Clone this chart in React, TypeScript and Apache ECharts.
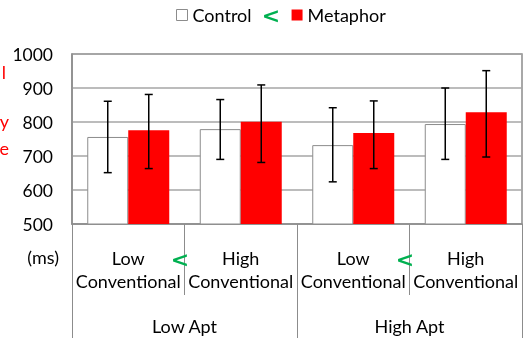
import React, { useEffect, useRef } from "react";
import * as echarts from "echarts";

const categories = ["Low\nConventional", "High\nConventional", "Low\nConventional", "High\nConventional"];
const groups = ["Low Apt", "High Apt"];
const yTicks = { min: 500, max: 1000, interval: 100 };

const controlMeans = [756, 779, 732, 794];
const controlLow = [651, 690, 624, 690];
const controlHigh = [861, 866, 842, 900];

const metaphorMeans = [776, 801, 768, 829];
const metaphorLow = [663, 681, 663, 697];
const metaphorHigh = [881, 909, 862, 951];

const FONT = "Lato";
const BAR_W = 41;
const GRAY = "#8c8c8c";
const GREEN = "#00b050";

function errorRenderer(offset: number) {
  return (params: any, api: any) => {
    const x = api.value(0);
    const lo = api.coord([x, api.value(1)]);
    const hi = api.coord([x, api.value(2)]);
    const cx = lo[0] + offset;
    const cap = 4;
    const style = { stroke: "#000", lineWidth: 1.5 };
    return {
      type: "group",
      children: [
        { type: "line", shape: { x1: cx, y1: hi[1], x2: cx, y2: lo[1] }, style },
        { type: "line", shape: { x1: cx - cap, y1: hi[1], x2: cx + cap, y2: hi[1] }, style },
        { type: "line", shape: { x1: cx - cap, y1: lo[1], x2: cx + cap, y2: lo[1] }, style },
      ],
    };
  };
}

const lessThan = (x: number, y: number) => ({
  type: "text",
  x,
  y,
  z: 20,
  style: {
    text: "<",
    fill: GREEN,
    fontSize: 22,
    lineHeight: 10,
    fontWeight: "bold",
    fontFamily: "DejaVu Sans",
    align: "center",
    verticalAlign: "middle",
  },
});

const redText = (text: string, x: number, y: number) => ({
  type: "text",
  x,
  y,
  style: { text, fill: "#ff0000", fontSize: 18, fontFamily: FONT, align: "right", verticalAlign: "middle" },
});

export default function App() {
  const ref = useRef<HTMLDivElement>(null);
  useEffect(() => {
    if (!ref.current) return;
    const chart = echarts.init(ref.current, null, { renderer: "svg" });
    chart.setOption({
      animation: false,
      textStyle: { fontFamily: FONT },
      legend: {
        left: 171,
        top: 1,
        itemWidth: 11,
        itemHeight: 11,
        itemGap: 40,
        icon: "rect",
        textStyle: { fontSize: 18, color: "#000", fontFamily: FONT },
        data: [
          { name: "Control", itemStyle: { color: "#fff", borderColor: GRAY, borderWidth: 1 } },
          { name: "Metaphor", itemStyle: { color: "#ff0000" } },
        ],
      },
      grid: {
        left: 72,
        right: 5,
        top: 54,
        bottom: 114,
        show: true,
        borderColor: GRAY,
        borderWidth: 1.5,
        backgroundColor: "transparent",
      },
      xAxis: [
        {
          type: "category",
          data: categories,
          position: "bottom",
          axisLine: { show: true, lineStyle: { color: GRAY, width: 1.5 } },
          axisTick: { show: true, interval: 0, alignWithLabel: false, length: 71, lineStyle: { color: GRAY, width: 1 } },
          axisLabel: { interval: 0, fontSize: 18, lineHeight: 23, margin: 22, color: "#000", fontFamily: FONT },
        },
        {
          type: "category",
          data: groups,
          position: "bottom",
          axisLine: { show: false },
          axisTick: { show: true, interval: 0, alignWithLabel: false, length: 114, lineStyle: { color: GRAY, width: 1 } },
          axisLabel: { interval: 0, fontSize: 18, margin: 93, color: "#000", fontFamily: FONT },
        },
      ],
      yAxis: {
        type: "value",
        min: yTicks.min,
        max: yTicks.max,
        interval: yTicks.interval,
        axisLine: { show: true, lineStyle: { color: GRAY, width: 1.5 } },
        axisTick: { show: false },
        axisLabel: { fontSize: 17.5, margin: 19, color: "#000", fontFamily: FONT, formatter: (v: number) => String(v) },
        splitLine: { lineStyle: { color: "#a6a6a6", width: 1.5 } },
      },
      series: [
        {
          name: "Control",
          type: "bar",
          xAxisIndex: 0,
          data: controlMeans,
          barWidth: BAR_W,
          barGap: "0%",
          itemStyle: { color: "#fff", borderColor: GRAY, borderWidth: 1 },
        },
        {
          name: "Metaphor",
          type: "bar",
          xAxisIndex: 0,
          data: metaphorMeans,
          barWidth: BAR_W,
          barGap: "0%",
          itemStyle: { color: "#ff0000" },
        },
        {
          type: "custom",
          xAxisIndex: 0,
          z: 10,
          renderItem: errorRenderer(-BAR_W / 2),
          data: controlMeans.map((_, i) => [i, controlLow[i], controlHigh[i]]),
          encode: { x: 0, y: [1, 2] },
        },
        {
          type: "custom",
          xAxisIndex: 0,
          z: 10,
          renderItem: errorRenderer(BAR_W / 2),
          data: metaphorMeans.map((_, i) => [i, metaphorLow[i], metaphorHigh[i]]),
          encode: { x: 0, y: [1, 2] },
        },
      ],
      graphic: [
        lessThan(271, 15),
        lessThan(180, 259),
        lessThan(405, 259),
        {
          type: "text",
          x: 59,
          y: 257,
          style: { text: "(ms)", fill: "#000", fontSize: 18, fontFamily: FONT, align: "right", verticalAlign: "middle" },
        },
        redText("l", 6, 72),
        redText("y", 9, 121),
        redText("e", 9, 148),
      ],
    });
    return () => chart.dispose();
  }, []);
  return <div ref={ref} style={{ position: "fixed", left: 0, top: 0, width: 527, height: 338 }} />;
}
